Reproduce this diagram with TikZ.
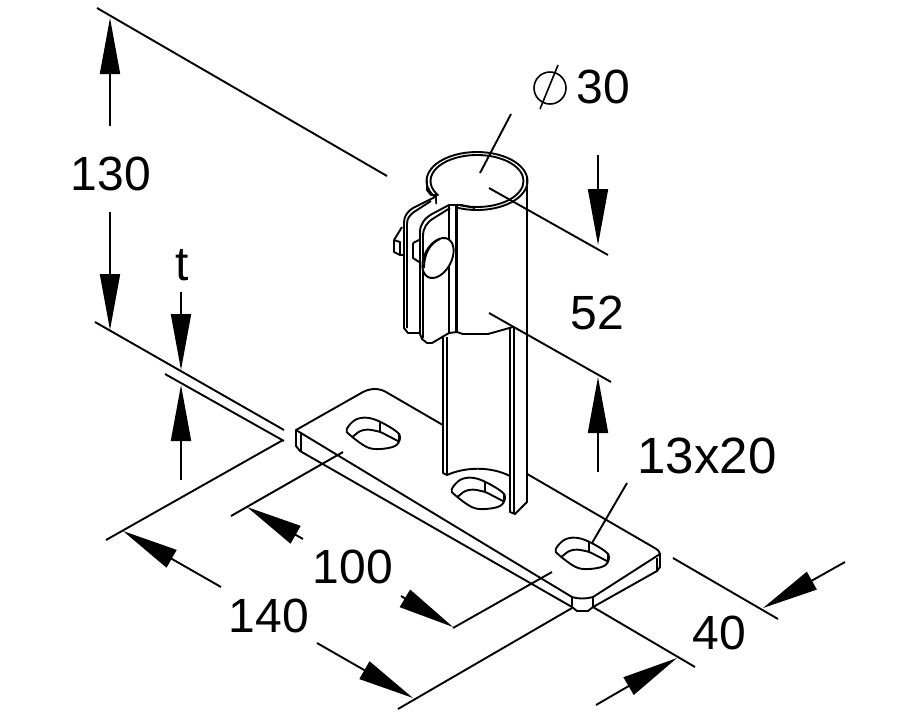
\documentclass[tikz,border=0pt]{standalone}
\usepackage{fontspec}
\setmainfont{Liberation Sans}
\usetikzlibrary{arrows.meta}

\begin{document}
\begin{tikzpicture}[
    x=1pt, y=-1pt,
    part/.style ={draw=black, line width=1.9pt, line join=round},
    cover/.style={part, fill=white},
    dimline/.style={draw=black, line width=1.9pt},
    dimarrow/.style={dimline, -{Triangle[length=56pt,width=20pt]}},
    dimtext/.style={font=\fontsize{48}{48}\selectfont, inner sep=0pt}
]
\useasboundingbox (0,0) rectangle (901,713);

%–––– BASE PLATE –––––––––––––––––––––––––––––––––––
\draw[part] (296,430) -- (363,392) .. controls (371,388) and (379,388) .. (386,392)
  -- (653,547) .. controls (658,550) and (660,551) .. (660,554) -- (593,597)
  .. controls (586,599) and (578,599) .. (572,597) -- cycle;
\draw[part] (296,430) -- (296,446) -- (300,451) -- (572,607) -- (577,611) -- (588,611)
  -- (593,607) -- (657,571) -- (660,567) -- (660,554);
\draw[part] (301,434) -- (301,451);
\draw[part] (572,597) -- (572,607);
\draw[part] (593,597) -- (593,607);
\draw[part] (657,558) -- (657,571);

% slots
\foreach \dx/\dy in {0/0, 105/60, 209/120} {
  \begin{scope}[shift={(\dx,\dy)}]
    \draw[part] plot[smooth cycle, tension=0.6] coordinates {(346.7,429.3) (355,420) (366.7,417.7)
      (380,421.7) (396.7,431.7) (400,438.3) (395,446) (380,449) (366.7,447) (350,435)};
    \draw[part, rounded corners=3pt] (352.7,436.7) -- (360,430.7) -- (368,429.3) -- (380,431.7) -- (399.3,441.7);
    \draw[part] (380,422) -- (380,432);
    \draw[part] (399,433) -- (399,442);
  \end{scope}
}

%–––– TUBE ––––––––––––––––––––––––––––––––––––––––
\fill[white] (443,337) -- (443,473) -- (510,476) -- (510,512) -- (515,514) -- (527,502) -- (527,330) -- cycle;
\draw[part] (443,337) -- (443,473) -- (447,475) .. controls (465,467) and (490,466) .. (510,476)
  -- (510,512) -- (515,514) -- (527,502) -- (527,178);
\draw[part] (447,337) -- (447,475);
\draw[part] (510,328) -- (510,512);
\draw[part] (514,328) -- (514,514);

% ring at the top
\draw[part] (477,181) ++(115:50.5 and 29) arc[start angle=115, end angle=-216, x radius=50.5, y radius=29];
\draw[part] (477,181) ++(113:46.5 and 26) arc[start angle=113, end angle=-214, x radius=46.5, y radius=26];
\draw[part] (427,180) -- (427,190) -- (431,195) -- (436,195) -- (436,204);

%–––– CLAMP –––––––––––––––––––––––––––––––––––––––
\fill[white] (435,197) -- (404,222) -- (404,328) -- (422,333) -- (440,300) -- cycle;
\draw[part] (435,197) -- (413,208) .. controls (408,211) and (404,216) .. (404,222)
  -- (404,328) -- (408,333) -- (422,333);
\draw[part] (431,201) -- (414,212) .. controls (410,215) and (407,218) .. (407,224) -- (407,328);

\draw[cover] (449,205) -- (432,214) .. controls (425,218) and (420,224) .. (420,232)
  -- (420,334) -- (422,339) -- (427,343) -- (432,343) -- (449,333) -- cycle;
\draw[part] (450,208) -- (434,218) .. controls (427,222) and (423,228) .. (423,236) -- (423,338);
\draw[line width=3pt] (456,206) -- (456,333);
\draw[part] (449,205) -- (461,205) -- (475,208);
\draw[part] (449,333) -- (457,332) -- (463,334) -- (488,334) -- (513,327);

% bolt and nuts
\draw[cover] (438,258) ellipse[x radius=21.5, y radius=13.5, rotate=62];
\draw[part] (424,268) .. controls (424,254) and (430,243) .. (440,239);
\draw[part] (394,240) -- (402,227);
\draw[part] (394,240) -- (394,252) -- (400,255) -- (404,255);
\draw[part] (394,240) -- (400,242) -- (400,255);
\draw[part] (413,243) -- (419,240);
\draw[part] (413,243) -- (413,258) -- (419,262);

%–––– EXTENSION LINES ––––––––––––––––––––––––––––––
\coordinate (hightop)  at (97,8);
\coordinate (highend)  at (387,176);
\coordinate (lowtop)   at (95,322);
\coordinate (lowend)   at (284,430);
\coordinate (thinstart) at (165,374);
\coordinate (thinend)  at (284,441);
\coordinate (longa)    at (106,540);
\coordinate (longb)    at (283,440);
\coordinate (longc)    at (398,709);
\coordinate (longd)    at (572,608);
\coordinate (midatop)  at (343,452);
\coordinate (midaend)  at (231,516);
\coordinate (midbtop)  at (552,572);
\coordinate (midbend)  at (453,628);
\coordinate (tuptop)   at (489,188);
\coordinate (tupend)   at (608,255);
\coordinate (tlowtop)  at (489,313);
\coordinate (tlowend)  at (611,382);
\coordinate (widetop)  at (673,558);
\coordinate (wideend)  at (778,619);
\coordinate (narrowtop) at (593,607);
\coordinate (narrowend) at (695,667);
\coordinate (boretop)  at (511,114);
\coordinate (boreend)  at (480,173);
\coordinate (slottop)  at (627,483);
\coordinate (slotend)  at (592,543);

\foreach \a/\b in {hightop/highend, lowtop/lowend, thinstart/thinend, longa/longb, longc/longd,
                   midatop/midaend, midbtop/midbend, tuptop/tupend, tlowtop/tlowend,
                   widetop/wideend, narrowtop/narrowend, boretop/boreend, slottop/slotend}
  \draw[dimline] (\a) -- (\b);

%–––– DIMENSION ARROWS –––––––––––––––––––––––––––––
\coordinate (hatail)  at (110,126);
\coordinate (hatip)   at (110,18);
\coordinate (hbtail)  at (110,212);
\coordinate (hbtip)   at (110,330);
\coordinate (tatail)  at (181,292);
\coordinate (tatip)   at (181,370);
\coordinate (tbtail)  at (181,480);
\coordinate (tbtip)   at (181,385);
\coordinate (latail)  at (221,587);
\coordinate (latip)   at (123,531);
\coordinate (lbtail)  at (317,643);
\coordinate (lbtip)   at (413,698);
\coordinate (matail)  at (303,539);
\coordinate (matip)   at (247,507);
\coordinate (mbtail)  at (401,596);
\coordinate (mbtip)   at (453,627);
\coordinate (satail)  at (598,155);
\coordinate (satip)   at (598,245);
\coordinate (sbtail)  at (598,472);
\coordinate (sbtip)   at (598,377);
\coordinate (watail)  at (845,562);
\coordinate (watip)   at (763,608);
\coordinate (wbtail)  at (596,705);
\coordinate (wbtip)   at (677,658);

\foreach \a/\b in {hatail/hatip, hbtail/hbtip, tatail/tatip, tbtail/tbtip, latail/latip, lbtail/lbtip,
                   matail/matip, mbtail/mbtip, satail/satip, sbtail/sbtip, watail/watip, wbtail/wbtip}
  \draw[dimarrow] (\a) -- (\b);

%–––– LABELS –––––––––––––––––––––––––––––––––––––––
\node (lblhigh)  [dimtext] at (111,174) {130};
\node (lblt)     [dimtext] at (182,265) {t};
\node (lblbore)  [dimtext] at (603,87)  {30};
\node (lblrise)  [dimtext] at (597,313) {52};
\node (lblslot)  [dimtext, font=\fontsize{51}{51}\selectfont] at (707,456) {13x20};
\node (lblmid)   [dimtext] at (353,567) {100};
\node (lbllong)  [dimtext] at (269,616) {140};
\node (lblwide)  [dimtext] at (719,633) {40};

% diameter sign
\draw[line width=1.6pt] (550,88) circle[radius=16];
\draw[line width=1.6pt] (558,65) -- (540,109);
\end{tikzpicture}
\end{document}
